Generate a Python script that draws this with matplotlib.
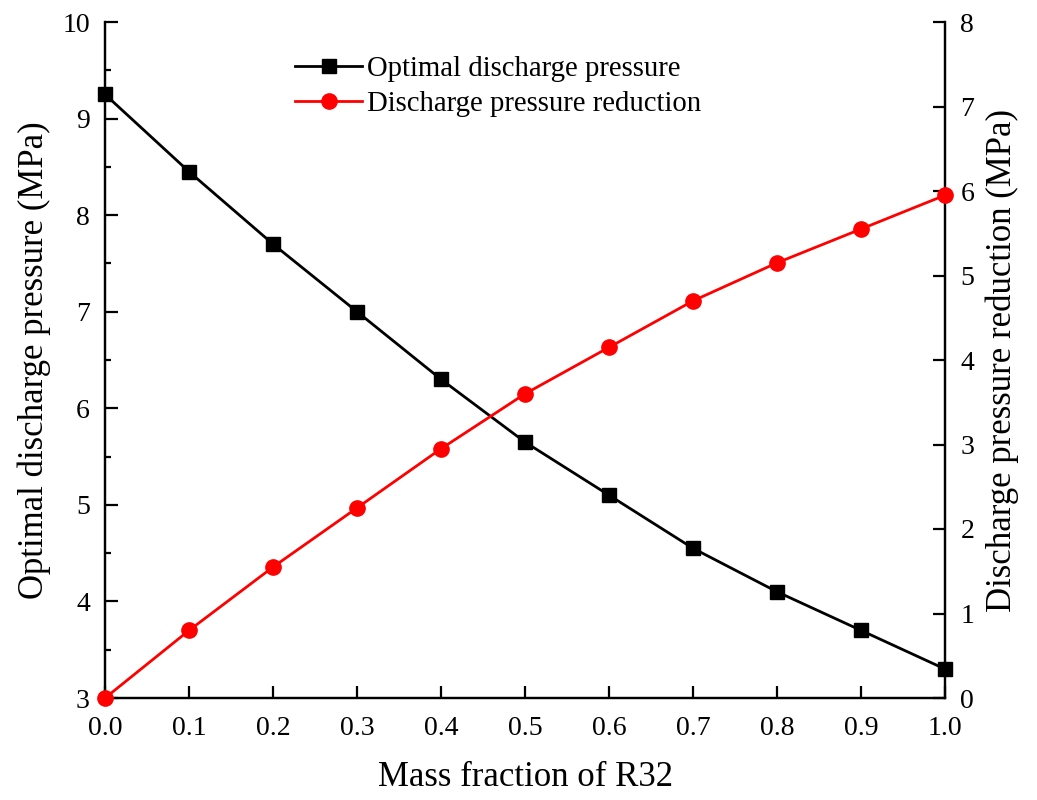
import matplotlib
matplotlib.use("Agg")
import matplotlib.pyplot as plt
from matplotlib.ticker import MultipleLocator

plt.rcParams['font.family'] = ['Liberation Serif', 'DejaVu Serif']
plt.rcParams['mathtext.fontset'] = 'stix'

x = [0.0, 0.1, 0.2, 0.3, 0.4, 0.5, 0.6, 0.7, 0.8, 0.9, 1.0]
optimal_pressure = [9.25, 8.45, 7.7, 7.0, 6.3, 5.65, 5.1, 4.55, 4.1, 3.7, 3.3]
pressure_reduction = [0.0, 0.8, 1.55, 2.25, 2.95, 3.6, 4.15, 4.7, 5.15, 5.55, 5.95]

fig = plt.figure(figsize=(10.37, 8.0), dpi=100)
ax = fig.add_axes([0.1013, 0.1275, 0.81, 0.845])
ax2 = ax.twinx()

l1, = ax.plot(x, optimal_pressure, color='black', lw=2.0, marker='s', ms=9.5,
              clip_on=False, zorder=3, label='Optimal discharge pressure')
l2, = ax2.plot(x, pressure_reduction, color='red', lw=2.0, marker='o', ms=11,
               clip_on=False, zorder=3, label='Discharge pressure reduction')

ax.set_xlim(0, 1.0)
ax.set_ylim(3, 10)
ax2.set_ylim(0, 8)
ax.xaxis.set_major_locator(MultipleLocator(0.1))
ax.yaxis.set_major_locator(MultipleLocator(1))
ax.yaxis.set_minor_locator(MultipleLocator(0.5))
ax2.yaxis.set_major_locator(MultipleLocator(1))
ax.xaxis.set_major_formatter(matplotlib.ticker.FormatStrFormatter('%.1f'))

for a in (ax, ax2):
    a.spines['top'].set_visible(False)
    for s in a.spines.values():
        s.set_linewidth(1.6)

ax.tick_params(axis='x', which='major', direction='in', length=9, width=1.6,
               labelsize=20, pad=13)
ax.tick_params(axis='y', which='major', direction='in', length=9, width=1.6,
               labelsize=20, pad=11)
ax.tick_params(axis='y', which='minor', direction='in', length=4.5, width=1.6)
ax.tick_params(axis='x', top=False)
ax2.tick_params(axis='y', which='major', direction='in', length=9, width=1.6,
                labelsize=20, pad=11)
ax2.tick_params(axis='y', which='minor', right=False)

ax.set_xlabel('Mass fraction of R32', fontsize=25, labelpad=14)
ax.set_ylabel('Optimal discharge pressure (MPa)', fontsize=25, labelpad=8)
ax2.set_ylabel('Discharge pressure reduction (MPa)', fontsize=25, labelpad=8)

ax.legend(handles=[l1, l2], loc='upper left', bbox_to_anchor=(0.213, 0.967),
          frameon=False, fontsize=20.7, handlelength=2.3, handletextpad=0.2,
          labelspacing=0.3, borderaxespad=0)

fig.savefig('out.png', dpi=100)
